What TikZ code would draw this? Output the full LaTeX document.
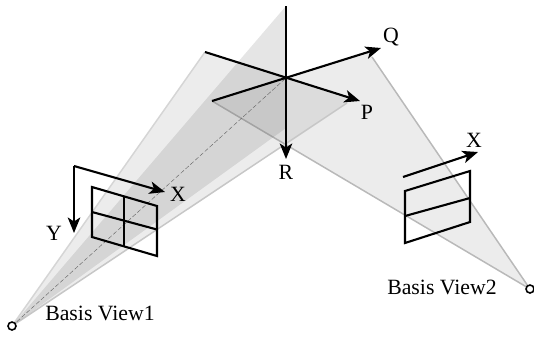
\documentclass[tikz,border=0pt]{standalone}
\usepackage{fontspec}
\setmainfont{Liberation Serif}
\usetikzlibrary{arrows.meta,positioning}
\definecolor{conefill}{RGB}{110,110,110}
\definecolor{coneedge}{RGB}{185,185,185}
\tikzset{
  conefill/.style={fill=conefill,fill opacity=0.13},
  coneline/.style={draw=coneedge,line width=0.85pt},
  wedge/.style={draw=none,fill=conefill,fill opacity=0.18},
  axisline/.style={draw=black,line width=1.2pt},
  axisarrow/.style={-{Stealth[length=3.1mm,width=2.5mm,inset=0.8mm]},draw=black,line width=1.2pt},
  frameline/.style={draw=black,line width=1.2pt},
  ray/.style={draw=black!60,line width=0.25pt,dash pattern=on 2.5pt off 1.2pt},
  lbl/.style={font=\fontsize{12.4}{14}\selectfont,inner sep=0pt},
  camera/.style={circle,draw=black,fill=white,line width=0.9pt,inner sep=0pt,minimum size=1.6mm},
}
\begin{document}
\begin{tikzpicture}[x=0.02cm,y=-0.02cm]
\useasboundingbox (0,0) rectangle (534,336);
% camera centres
\coordinate (cam1) at (12,326);
\coordinate (cam2) at (530,289);
% world axes
\coordinate (orig) at (286,78);
\coordinate (rtop) at (286,6);
\coordinate (rend) at (286,159);
\coordinate (qend) at (381,48);
\coordinate (qtail) at (212,101);
\coordinate (pend) at (360,101);
\coordinate (ptail) at (205,52);
% cone corners
\coordinate (qcorner) at (372,57);
\coordinate (qtop) at (370,52);
\coordinate (pcorner) at (347,103);
\coordinate (ptop) at (345,97);
\coordinate (rcorner) at (286,128);
% cones
\fill[conefill] (cam2) -- (qcorner) -- (qtop) -- (qtail) -- cycle;
\draw[coneline] (qcorner) -- (cam2) -- (qtail);
\fill[conefill] (cam1) -- (ptail) -- (ptop) -- (pcorner) -- cycle;
\draw[coneline,draw=coneedge!60] (ptail) -- (cam1);
\draw[coneline,draw=coneedge!80] (cam1) -- (pcorner);
\fill[wedge] (cam1) -- (rtop) -- (rcorner) -- cycle;
\draw[ray] (cam1) -- (orig);
% axes
\draw[axisline] (rtop) -- (orig);
\draw[axisarrow] (orig) -- (rend);
\draw[axisarrow] (qtail) -- (qend);
\draw[axisarrow] (ptail) -- (pend);
% image plane of view 1
\draw[frameline] (92,187) -- (157,206) -- (157,256) -- (92,237) -- cycle;
\draw[frameline] (92,212) -- (157,229.5);
\draw[frameline] (124,197) -- (124,247);
\coordinate (xy1) at (74,166);
\coordinate (x1) at (165,192);
\coordinate (y1) at (74,233);
\draw[axisarrow] (xy1) -- (x1);
\draw[axisarrow] (xy1) -- (y1);
% image plane of view 2
\draw[frameline] (405,191) -- (470,171) -- (470,222) -- (405,243) -- cycle;
\draw[frameline] (405,216) -- (470,198);
\coordinate (x2a) at (403,177);
\coordinate (x2b) at (478,152);
\draw[axisarrow] (x2a) -- (x2b);
% camera marks
\node[camera] (cam1mark) at (cam1) {};
\node[camera] (cam2mark) at (cam2) {};
% labels
\node[lbl] (qlabel) at (391,37) {Q};
\node[lbl] (plabel) at (367,112) {P};
\node[lbl] (rlabel) at (286,172) {R};
\node[lbl] (xlabel1) at (178,194) {X};
\node[lbl] (ylabel1) at (54,233) {Y};
\node[lbl] (xlabel2) at (474,140) {X};
\node[lbl] (view1) at (100,313) {Basis View1};
\node[lbl] (view2) at (442,287) {Basis View2};
\end{tikzpicture}
\end{document}
